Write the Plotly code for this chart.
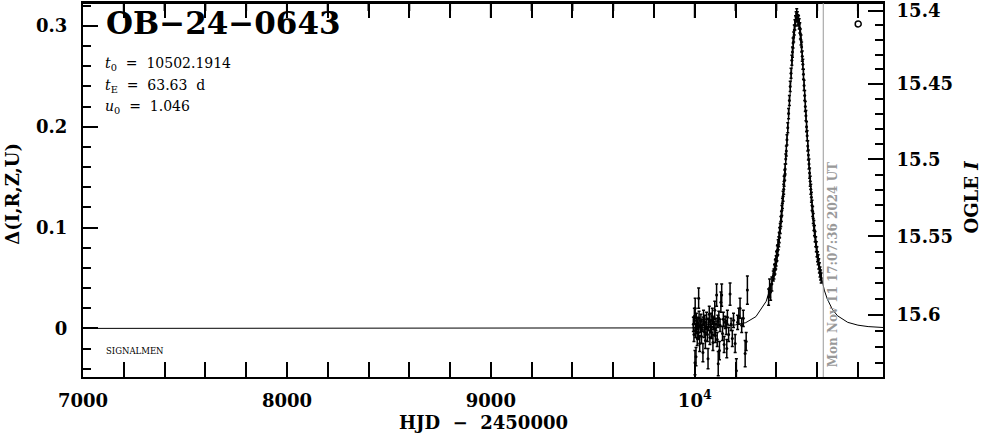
import math
import plotly.graph_objects as go

# ---------------- data ----------------
event_name = "OB−24−0643"
t0_text = "10502.1914"
tE_text = "63.63"
u0_text = "1.046"
now_label = "Mon Nov 11 17:07:36 2024 UT"
now_hjd = 10630.0

# model curve
model_t = [7000, 9800, 10000, 10100, 10150, 10200, 10250, 10300, 10350, 10380,
           10400, 10420, 10430, 10440, 10450, 10460, 10470, 10480, 10490, 10495,
           10502, 10510, 10520, 10530, 10540, 10550, 10560, 10570, 10580, 10590,
           10600, 10610, 10620, 10635, 10650, 10675, 10700, 10750, 10800, 10850, 10923]
model_d = [0.0, 0.0002, 0.0005, 0.0012, 0.0020, 0.0035, 0.0057, 0.0117, 0.0268, 0.0465,
           0.0686, 0.1019, 0.1239, 0.1500, 0.1801, 0.2129, 0.2465, 0.2770, 0.2997, 0.3068,
           0.3106, 0.3061, 0.2883, 0.2605, 0.2278, 0.1942, 0.1628, 0.1349, 0.1111, 0.0912,
           0.0748, 0.0614, 0.0506, 0.0380, 0.0290, 0.0188, 0.0125, 0.0060, 0.0032, 0.0018, 0.0009]

# baseline season
base_t = [9993, 9996, 9998, 10001, 10002, 10004, 10006, 10008, 10010, 10012, 10015, 10018,
          10019, 10021, 10024, 10027, 10030, 10033, 10036, 10040, 10043, 10046, 10049, 10052,
          10055, 10058, 10062, 10065, 10068, 10071, 10074, 10077, 10080, 10083, 10086, 10089,
          10092, 10095, 10098, 10101, 10104, 10107, 10110, 10113, 10115, 10118, 10121, 10124,
          10128, 10132, 10136, 10140, 10144, 10149, 10154, 10157, 10160, 10166, 10173, 10178,
          10184, 10190, 10198, 10204, 10210, 10216, 10222, 10230, 10238, 10247, 10252, 10258]
base_d = [0.004, -0.006, 0.012, -0.034, 0.020, -0.002, -0.028, 0.008, 0.001, -0.010, 0.005, -0.004,
          0.030, 0.010, -0.015, 0.002, 0.007, -0.008, 0.003, -0.024, 0.011, -0.003, 0.006, -0.012,
          0.000, 0.009, -0.006, -0.030, 0.004, 0.014, -0.009, 0.002, 0.008, -0.004, 0.012, -0.014,
          0.005, 0.000, 0.018, -0.007, 0.004, 0.033, -0.011, 0.007, -0.035, 0.010, -0.022, 0.003,
          0.026, 0.033, -0.005, 0.009, -0.016, 0.006, 0.001, -0.020, 0.011, -0.006, 0.034, 0.004,
          -0.010, 0.008, -0.015, -0.042, 0.006, 0.012, 0.020, 0.003, 0.010, -0.025, -0.013, 0.038]
base_e = [0.007, 0.007, 0.008, 0.012, 0.010, 0.007, 0.009, 0.007, 0.006, 0.007, 0.006, 0.007,
          0.010, 0.007, 0.008, 0.006, 0.007, 0.007, 0.006, 0.009, 0.007, 0.006, 0.007, 0.008,
          0.006, 0.007, 0.007, 0.010, 0.006, 0.008, 0.007, 0.006, 0.007, 0.006, 0.008, 0.008,
          0.006, 0.007, 0.009, 0.007, 0.006, 0.011, 0.007, 0.006, 0.012, 0.007, 0.009, 0.006,
          0.010, 0.011, 0.007, 0.007, 0.008, 0.006, 0.007, 0.009, 0.007, 0.007, 0.011, 0.006,
          0.008, 0.007, 0.009, 0.012, 0.007, 0.008, 0.010, 0.007, 0.008, 0.013, 0.009, 0.014]

# event season
peak_t = [10362, 10367, 10372, 10378, 10385, 10388, 10391, 10393, 10395, 10397, 10399, 10401,
          10403, 10405, 10407, 10409, 10412, 10414, 10416, 10419, 10422, 10425, 10427, 10430,
          10433, 10436, 10438, 10441, 10443, 10446, 10449, 10452, 10456, 10460, 10464, 10468,
          10472, 10476, 10479, 10482, 10485, 10488, 10491, 10494, 10497, 10500,
          10503, 10506, 10509, 10512, 10515, 10518, 10521, 10524, 10527, 10530, 10533, 10536,
          10539, 10542, 10545, 10548, 10551, 10554, 10557, 10560, 10563, 10566, 10569, 10572,
          10575, 10578, 10581, 10584, 10587, 10590, 10593, 10596, 10599, 10602, 10605, 10608,
          10611, 10614, 10617, 10620]
peak_d = [0.031, 0.040, 0.036, 0.044, 0.052, 0.054, 0.058, 0.059, 0.063, 0.064, 0.067, 0.071,
          0.072, 0.077, 0.078, 0.083, 0.086, 0.090, 0.095, 0.099, 0.106, 0.111, 0.117, 0.124,
          0.131, 0.138, 0.146, 0.152, 0.158, 0.168, 0.176, 0.187, 0.199, 0.213, 0.226, 0.240,
          0.253, 0.266, 0.274, 0.283, 0.289, 0.296, 0.301, 0.305, 0.309, 0.312,
          0.309, 0.306, 0.305, 0.302, 0.298, 0.292, 0.286, 0.279, 0.270, 0.262, 0.252, 0.241,
          0.231, 0.220, 0.211, 0.200, 0.191, 0.181, 0.172, 0.163, 0.154, 0.146, 0.138, 0.130,
          0.122, 0.116, 0.109, 0.102, 0.097, 0.091, 0.086, 0.081, 0.076, 0.071, 0.068, 0.064,
          0.060, 0.056, 0.053, 0.050]
peak_e = [0.008, 0.009, 0.008, 0.007] + [0.005] * (len(peak_t) - 4)

# x ticks
x_tickvals = [7000, 8000, 9000, 10000]
x_ticktext = ["7000", "8000", "9000", "10<sup>4</sup>"]
x_minor_step = 200

# OGLE I ticks (right axis)
i_major = [15.40, 15.45, 15.50, 15.55, 15.60]
i_major_text = ["15.4", "15.45", "15.5", "15.55", "15.6"]
i_minor = [15.41, 15.42, 15.43, 15.44, 15.46, 15.47, 15.48, 15.49, 15.51, 15.52, 15.53,
           15.54, 15.56, 15.57, 15.58, 15.59, 15.61, 15.62, 15.63]

# magnitude <-> delta mapping (baseline magnitude and source fraction)
I_BASE = 15.6083
SRC_FRAC = 0.628


def mag_to_delta(mag):
    amp = 1.0 + (10 ** (-0.4 * (mag - I_BASE)) - 1.0) / SRC_FRAC
    return 2.5 * math.log10(amp)


X_RANGE = [7000, 10923]
Y_RANGE = [-0.0482, 0.3227]

FONT = "DejaVu Serif"
TOP_PAD = 17  # extra top margin scrolled out of view

fig = go.Figure()

fig.add_trace(go.Scatter(
    x=model_t, y=model_d, mode="lines",
    line=dict(color="black", width=1), hoverinfo="skip", showlegend=False))

fig.add_trace(go.Scatter(
    x=base_t + peak_t, y=base_d + peak_d, mode="markers",
    marker=dict(color="black", size=3),
    error_y=dict(type="data", array=base_e + peak_e, color="black", thickness=1.5, width=1.5),
    showlegend=False))

# invisible trace to activate the right axis
fig.add_trace(go.Scatter(x=[X_RANGE[0]], y=[0], yaxis="y2", mode="markers",
                         marker=dict(opacity=0), hoverinfo="skip", showlegend=False))

tick_font = dict(family=FONT, size=18, color="black", weight="bold")

fig.update_layout(
    width=986, height=434 + TOP_PAD,
    margin=dict(l=83, r=103, t=3 + TOP_PAD, b=57),
    paper_bgcolor="white", plot_bgcolor="white",
    xaxis=dict(range=X_RANGE, showgrid=False, zeroline=False,
               showline=True, linecolor="black", linewidth=2, mirror="allticks",
               ticks="inside", ticklen=15, tickwidth=2, tickcolor="black",
               tickmode="array", tickvals=x_tickvals, ticktext=x_ticktext,
               tickfont=tick_font, ticklabelstandoff=6,
               minor=dict(tick0=X_RANGE[0], dtick=x_minor_step, ticks="inside", ticklen=8,
                          tickwidth=2, tickcolor="black")),
    yaxis=dict(range=Y_RANGE, showgrid=False, zeroline=False,
               showline=True, linecolor="black", linewidth=2,
               ticks="inside", ticklen=15, tickwidth=2, tickcolor="black",
               tick0=0, dtick=0.1, tickfont=tick_font, ticklabelstandoff=10,
               minor=dict(tick0=0, dtick=0.02, ticks="inside", ticklen=8,
                          tickwidth=2, tickcolor="black")),
    yaxis2=dict(range=Y_RANGE, overlaying="y", side="right", showgrid=False,
                zeroline=False, showline=True, linecolor="black", linewidth=2,
                ticks="inside", ticklen=15, tickwidth=2, tickcolor="black",
                tickmode="array", tickvals=[mag_to_delta(m) for m in i_major],
                ticktext=i_major_text, tickfont=tick_font, ticklabelstandoff=8,
                ticklabeloverflow="allow",
                minor=dict(tickmode="array", tickvals=[mag_to_delta(m) for m in i_minor],
                           ticks="inside", ticklen=8, tickwidth=2, tickcolor="black")),
    showlegend=False,
)

# top frame line and its ticks (x scale)
fig.add_shape(type="line", xref="paper", yref="paper", x0=-0.0013, x1=1.0013, y0=1, y1=1,
              line=dict(color="black", width=2))
top_minor = [v for v in range(X_RANGE[0] + x_minor_step, X_RANGE[1], x_minor_step)
             if v not in x_tickvals]
for v, ln in [(v, 15) for v in x_tickvals[1:]] + [(v, 8) for v in top_minor]:
    fig.add_shape(type="line", xref="x", x0=v, x1=v, yref="paper", ysizemode="pixel",
                  yanchor=1, y0=0, y1=-ln, line=dict(color="black", width=2))

# vertical "now" line
fig.add_shape(type="line", xref="x", yref="paper", x0=now_hjd, x1=now_hjd, y0=0, y1=1,
              line=dict(color="#999999", width=1))
fig.add_annotation(x=now_hjd, xref="x", y=0.02, yref="paper", text=now_label,
                   textangle=-90, showarrow=False, xanchor="left", yanchor="bottom",
                   xshift=1, font=dict(family=FONT, size=12, color="#999999", weight="bold"))

# small observatory marker
fig.add_shape(type="circle", xref="paper", yref="paper", xsizemode="pixel", ysizemode="pixel",
              xanchor=0.969, yanchor=0.944, x0=-3, x1=3, y0=-3, y1=3,
              line=dict(color="black", width=1.5))

# texts
fig.add_annotation(x=0.026, y=1.0, xref="paper", yref="paper", xanchor="left", yanchor="top",
                   text=event_name, showarrow=False,
                   font=dict(family=FONT, size=31, color="black", weight="bold"))
param_lines = [
    "<i>t</i><sub>0</sub>&nbsp; = &nbsp;" + t0_text,
    "<i>t</i><sub>E</sub>&nbsp; = &nbsp;" + tE_text + "&nbsp; d",
    "<i>u</i><sub>0</sub>&nbsp; = &nbsp;" + u0_text,
]
for k, txt in enumerate(param_lines):
    fig.add_annotation(x=0.025, y=1 - (50 + 21.5 * k) / 374, xref="paper", yref="paper",
                       xanchor="left", yanchor="top", text=txt, showarrow=False,
                       font=dict(family=FONT, size=14, color="black"))
fig.add_annotation(x=0.026, y=0.07, xref="paper", yref="paper", xanchor="left",
                   yanchor="middle", text="SIGNALMEN", showarrow=False,
                   font=dict(family=FONT, size=8.5, color="black"))

# axis titles
fig.add_annotation(x=0.5, y=0, xref="paper", yref="paper", yanchor="middle", yshift=-45,
                   text="HJD  −  2450000", showarrow=False,
                   font=dict(family=FONT, size=18, color="black", weight="bold"))
fig.add_annotation(x=0, y=0.49, xref="paper", yref="paper", xanchor="center", xshift=-70,
                   text="Δ(I,R,Z,U)", textangle=-90, showarrow=False,
                   font=dict(family=FONT, size=18, color="black", weight="bold"))
fig.add_annotation(x=1, y=0.48, xref="paper", yref="paper", xanchor="center", xshift=88,
                   text="OGLE <i>I</i>", textangle=-90, showarrow=False,
                   font=dict(family=FONT, size=18, color="black", weight="bold"))

post = ("document.body.style.margin='0';document.body.style.overflow='hidden';"
        "document.getElementById('{plot_id}').style.marginTop='-%dpx';" % TOP_PAD)
fig.write_html("out.html", post_script=post, config={"displayModeBar": False})
